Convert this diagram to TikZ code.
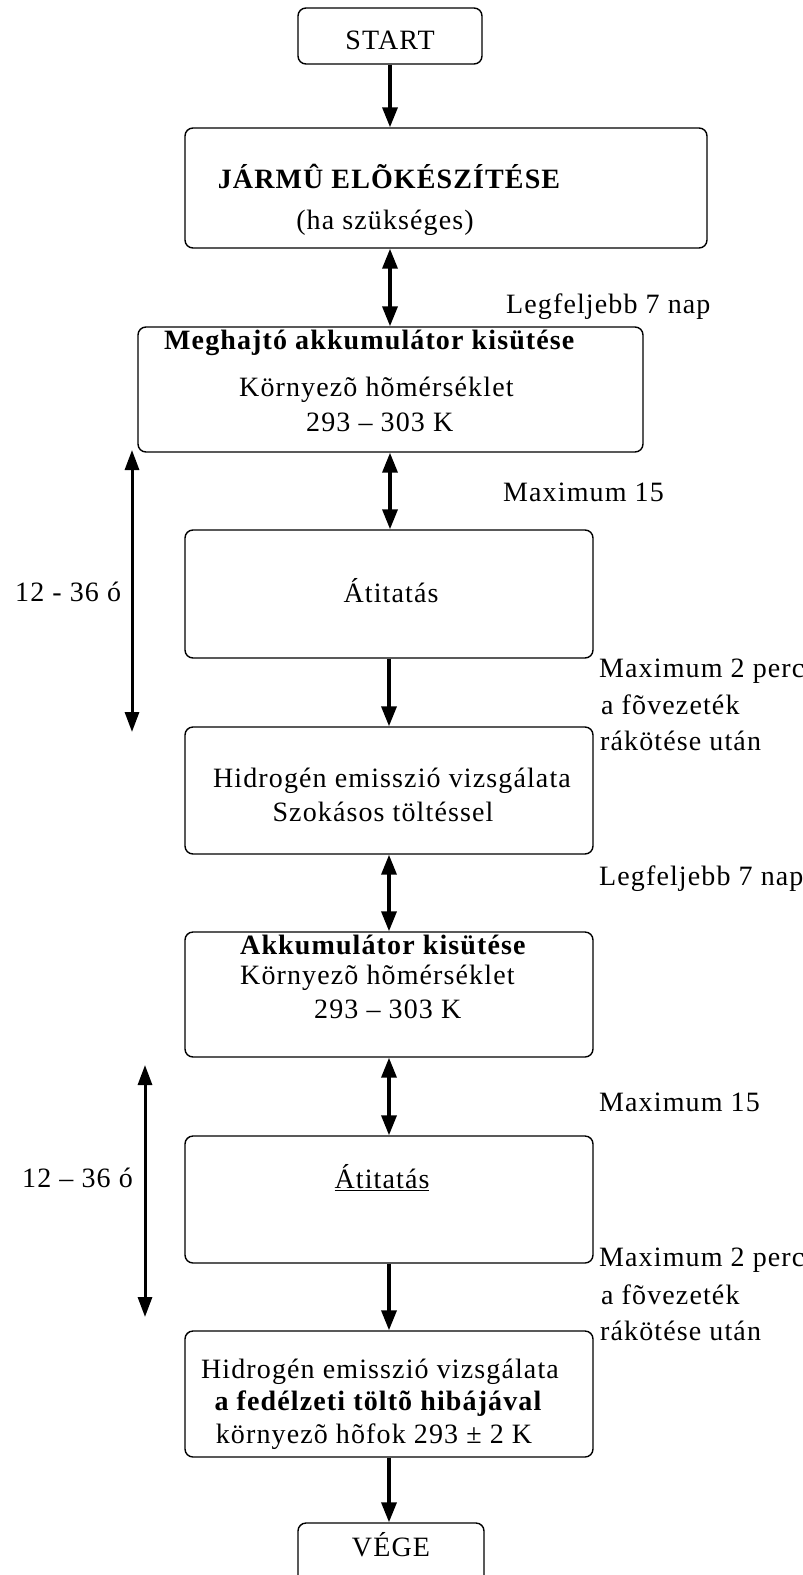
\documentclass[tikz,border=0pt]{standalone}
\usepackage{fontspec}
\setmainfont{Liberation Serif}[LetterSpace=4]
\usetikzlibrary{arrows.meta}
\begin{document}
\begin{tikzpicture}[x=1pt,y=-1pt,
  every node/.style={font=\fontsize{28}{32}\selectfont, inner sep=0pt},
  box/.style={draw, line width=1.4pt, rounded corners=8pt},
  lab/.style={anchor=west},
  flow/.style={line width=3.5pt, -{Triangle[width=15pt,length=20pt]}},
  both/.style={line width=3.5pt, {Triangle[width=15pt,length=20pt]}-{Triangle[width=15pt,length=20pt]}},
  span/.style={line width=3pt, {Triangle[width=14pt,length=20pt]}-{Triangle[width=14pt,length=20pt]}}
]
\useasboundingbox (0,0) rectangle (803,1575);
\clip (0,0) rectangle (803,1575);
% boxes
\node[box, minimum width=184pt, minimum height=56pt] (start) at (390,36) {};
\node[box, minimum width=522pt, minimum height=120pt] (jarmu) at (446,188) {};
\node[box, minimum width=505pt, minimum height=125pt] (megh) at (390.5,389.5) {};
\node[box, minimum width=408pt, minimum height=128pt] (atit1) at (389,594) {};
\node[box, minimum width=408pt, minimum height=127pt] (hidr1) at (389,790.5) {};
\node[box, minimum width=408pt, minimum height=125pt] (akku) at (389,994.5) {};
\node[box, minimum width=408pt, minimum height=127pt] (atit2) at (389,1199.5) {};
\node[box, minimum width=408pt, minimum height=126pt] (hidr2) at (389,1394) {};
\node[box, minimum width=186pt, minimum height=80pt] (vege) at (391,1563) {};
% texts
\node (tstart) at (390,40) {START};
\node (tj1) at (389,176) {\bfseries JÁRMÛ ELÕKÉSZÍTÉSE};
\node (tj2) at (385,223) {(ha szükséges)};
\node[lab] (tm1) at (164,343) {\bfseries Meghajtó akkumulátor kisütése};
\node[lab] (tm2) at (239,390) {Környezõ hõmérséklet};
\node[lab] (tm3) at (306,422) {293 – 303 K};
\node (ta1) at (391,591) {Átitatás};
\node (th1) at (392,781) {Hidrogén emisszió vizsgálata};
\node (th2) at (383,812) {Szokásos töltéssel};
\node[lab] (tk1) at (240,945) {\bfseries Akkumulátor kisütése};
\node[lab] (tk2) at (240,978) {Környezõ hõmérséklet};
\node[lab] (tk3) at (314,1009) {293 – 303 K};
\node (ta2) at (382,1178) {\underline{Átitatás}};
\node (tg1) at (380,1372) {Hidrogén emisszió vizsgálata};
\node (tg2) at (378,1404) {\bfseries a fedélzeti töltõ hibájával};
\node (tg3) at (374,1437) {környezõ hõfok 293 ± 2 K};
\node (tv) at (391,1545) {VÉGE};
% side labels
\node[lab] (l1) at (506,307) {Legfeljebb 7 nap};
\node[lab] (l2) at (503,492) {Maximum 15};
\node[lab] (l3) at (599,671) {Maximum 2 perc};
\node[lab] (l4) at (601,705) {a fõvezeték};
\node[lab] (l5) at (600,741) {rákötése után};
\node[lab] (l6) at (599,879) {Legfeljebb 7 nap};
\node[lab] (l7) at (599,1102) {Maximum 15};
\node[lab] (l8) at (599,1260) {Maximum 2 perc};
\node[lab] (l9) at (601,1295) {a fõvezeték};
\node[lab] (l10) at (600,1331) {rákötése után};
\node[lab] (s1) at (15,592) {12 - 36 ó};
\node[lab] (s2) at (22,1178) {12 – 36 ó};
% connectors
\draw[flow] (start.south) -- (start.south |- jarmu.north);
\draw[both] (start.south |- jarmu.south) -- (start.south |- megh.north);
\draw[both] (start.south |- megh.south) -- (start.south |- atit1.north);
\draw[flow] (atit1.south) -- (hidr1.north);
\draw[both] (hidr1.south) -- (akku.north);
\draw[both] (akku.south) -- (atit2.north);
\draw[flow] (atit2.south) -- (hidr2.north);
\draw[flow] (hidr2.south) -- (hidr2.south |- vege.north);
% span arrows
\coordinate (a1t) at (132,450);
\coordinate (a1b) at (132,732);
\coordinate (a2t) at (145,1065);
\coordinate (a2b) at (145,1317);
\draw[span] (a1t) -- (a1b);
\draw[span] (a2t) -- (a2b);
\end{tikzpicture}
\end{document}
